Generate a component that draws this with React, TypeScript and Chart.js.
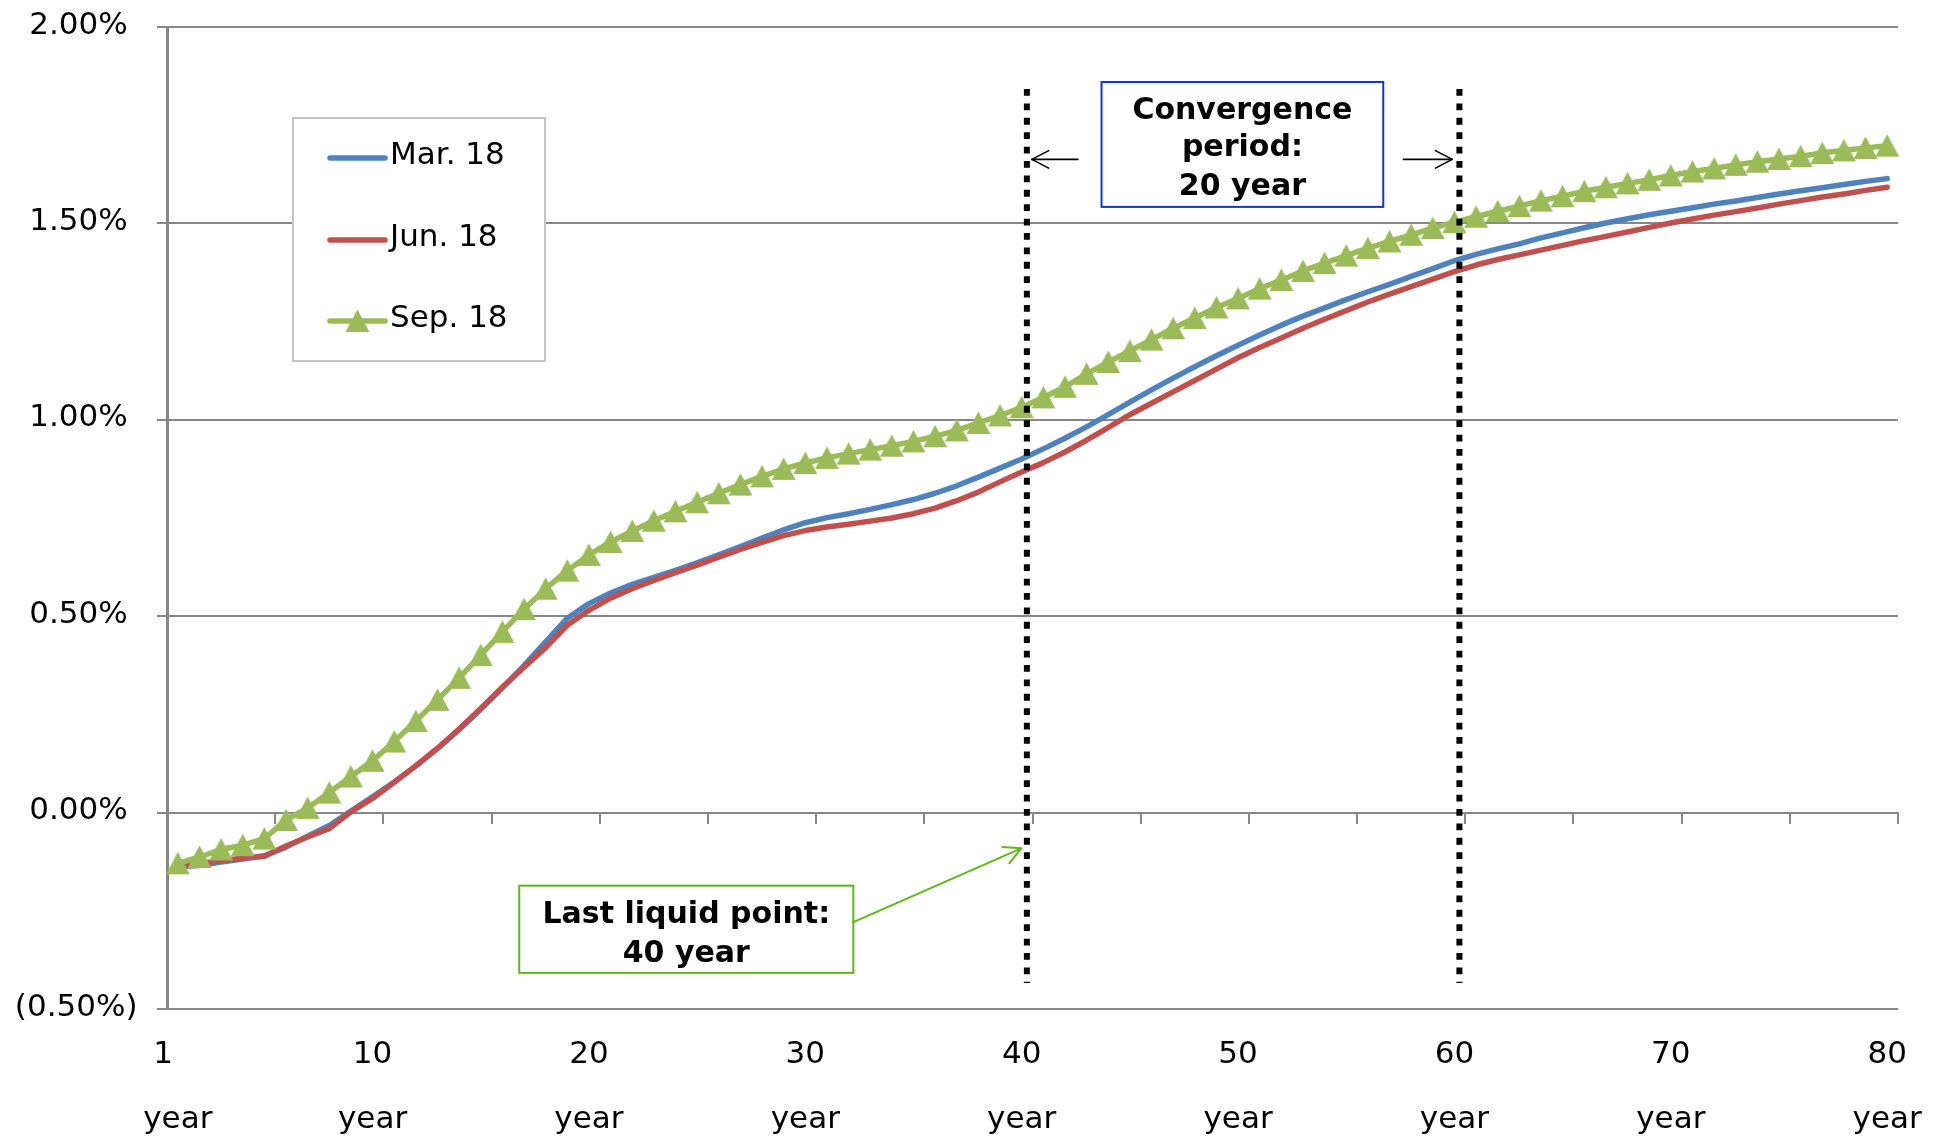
import React, { useEffect, useRef } from 'react';
import { Chart, registerables } from 'chart.js';

Chart.register(...registerables);

// ---------------- data ----------------
const years = [
  1, 2, 3, 4, 5, 6, 7, 8, 9, 10, 11, 12, 13, 14, 15, 16, 17, 18, 19, 20,
  21, 22, 23, 24, 25, 26, 27, 28, 29, 30, 31, 32, 33, 34, 35, 36, 37, 38, 39, 40,
  41, 42, 43, 44, 45, 46, 47, 48, 49, 50, 51, 52, 53, 54, 55, 56, 57, 58, 59, 60,
  61, 62, 63, 64, 65, 66, 67, 68, 69, 70, 71, 72, 73, 74, 75, 76, 77, 78, 79, 80,
];
const labeledYears = [1, 10, 20, 30, 40, 50, 60, 70, 80];
const yearWord = 'year';

const mar18 = [
  -0.138, -0.135, -0.126, -0.118, -0.110, -0.088, -0.060, -0.033, 0.004, 0.040,
  0.078, 0.119, 0.163, 0.211, 0.263, 0.318, 0.374, 0.435, 0.495, 0.532,
  0.559, 0.581, 0.599, 0.617, 0.636, 0.656, 0.677, 0.699, 0.720, 0.738,
  0.751, 0.761, 0.772, 0.784, 0.797, 0.813, 0.832, 0.854, 0.877, 0.900,
  0.926, 0.953, 0.982, 1.013, 1.045, 1.076, 1.106, 1.135, 1.163, 1.190,
  1.216, 1.241, 1.264, 1.285, 1.306, 1.326, 1.345, 1.365, 1.385, 1.405,
  1.421, 1.435, 1.448, 1.463, 1.476, 1.489, 1.501, 1.512, 1.522, 1.531,
  1.540, 1.549, 1.557, 1.566, 1.575, 1.583, 1.591, 1.599, 1.607, 1.614,
];
const jun18 = [
  -0.136, -0.130, -0.122, -0.116, -0.111, -0.085, -0.062, -0.041, 0.002, 0.036,
  0.077, 0.119, 0.164, 0.213, 0.265, 0.319, 0.370, 0.420, 0.477, 0.515,
  0.546, 0.570, 0.591, 0.611, 0.630, 0.650, 0.670, 0.688, 0.705, 0.718,
  0.727, 0.734, 0.742, 0.750, 0.761, 0.775, 0.794, 0.816, 0.842, 0.867,
  0.891, 0.918, 0.948, 0.980, 1.013, 1.042, 1.071, 1.100, 1.129, 1.158,
  1.184, 1.208, 1.233, 1.256, 1.278, 1.300, 1.320, 1.339, 1.358, 1.377,
  1.394, 1.408, 1.420, 1.432, 1.444, 1.456, 1.467, 1.478, 1.490, 1.501,
  1.511, 1.521, 1.530, 1.539, 1.549, 1.558, 1.567, 1.575, 1.584, 1.592,
];
const sep18 = [
  -0.129, -0.113, -0.094, -0.083, -0.066, -0.019, 0.012, 0.051, 0.092, 0.132,
  0.181, 0.233, 0.287, 0.343, 0.401, 0.460, 0.518, 0.570, 0.616, 0.656,
  0.689, 0.717, 0.743, 0.767, 0.790, 0.813, 0.835, 0.856, 0.875, 0.890,
  0.903, 0.914, 0.924, 0.934, 0.945, 0.958, 0.973, 0.992, 1.011, 1.032,
  1.057, 1.084, 1.117, 1.147, 1.175, 1.204, 1.233, 1.259, 1.286, 1.309,
  1.334, 1.356, 1.379, 1.399, 1.418, 1.437, 1.454, 1.471, 1.488, 1.503,
  1.517, 1.531, 1.544, 1.558, 1.569, 1.582, 1.592, 1.602, 1.611, 1.622,
  1.632, 1.640, 1.649, 1.657, 1.664, 1.671, 1.679, 1.686, 1.692, 1.698,
];

const seriesNames = ['Mar. 18', 'Jun. 18', 'Sep. 18'];
const seriesColors = ['#4F81BD', '#C0504D', '#9BBB59'];

const yMin = -0.5;
const yMax = 2.0;
const yStep = 0.5;

// annotation anchors (in data units: year, percent)
const llpYear = 40;
const convEndYear = 60;
const convText = ['Convergence', 'period:', '20 year'];
const llpText = ['Last liquid point:', '40 year'];

// ---------------- styling ----------------
const FONT = '"DejaVu Sans", Verdana, sans-serif';
const GRID = '#878787';
const REG = 31;
const LINE_W = 5.5;

function makeTriangle(color: string): HTMLCanvasElement {
  const c = document.createElement('canvas');
  c.width = 25;
  c.height = 24;
  const g = c.getContext('2d')!;
  g.fillStyle = color;
  g.beginPath();
  g.moveTo(12.5, 0.5);
  g.lineTo(24.5, 23);
  g.lineTo(0.5, 23);
  g.closePath();
  g.fill();
  return c;
}

function drawArrow(
  ctx: CanvasRenderingContext2D,
  x1: number, y1: number, x2: number, y2: number,
  color: string, width: number,
) {
  const head = 19;
  const a = 0.48;
  ctx.save();
  ctx.strokeStyle = color;
  ctx.lineWidth = width;
  ctx.lineCap = 'round';
  ctx.lineJoin = 'round';
  ctx.beginPath();
  ctx.moveTo(x1, y1);
  ctx.lineTo(x2, y2);
  ctx.stroke();
  const ang = Math.atan2(y2 - y1, x2 - x1);
  ctx.beginPath();
  ctx.moveTo(x2 - head * Math.cos(ang - a), y2 - head * Math.sin(ang - a));
  ctx.lineTo(x2, y2);
  ctx.lineTo(x2 - head * Math.cos(ang + a), y2 - head * Math.sin(ang + a));
  ctx.stroke();
  ctx.restore();
}

const overlayPlugin = {
  id: 'overlay',
  afterDraw(chart: any) {
    const ctx: CanvasRenderingContext2D = chart.ctx;
    const xs = chart.scales.x;
    const ys = chart.scales.y;
    const ca = chart.chartArea;
    const px = (year: number) => xs.getPixelForValue(year - 1);
    const py = (v: number) => ys.getPixelForValue(v);

    // ---- legend ----
    const lx = ca.left + 126;
    const ly = ca.top + 91;
    ctx.save();
    ctx.fillStyle = '#ffffff';
    ctx.fillRect(lx, ly, 252, 243);
    ctx.strokeStyle = '#C4C4C4';
    ctx.lineWidth = 2;
    ctx.strokeRect(lx, ly, 252, 243);
    const ds = chart.data.datasets;
    const rows = [40, 122, 203];
    ds.forEach((d: any, i: number) => {
      const ry = ly + rows[i];
      ctx.strokeStyle = d.borderColor;
      ctx.lineWidth = LINE_W;
      ctx.lineCap = 'round';
      ctx.beginPath();
      ctx.moveTo(lx + 37, ry);
      ctx.lineTo(lx + 92, ry);
      ctx.stroke();
      if (d.pointStyle && typeof d.pointStyle === 'object') {
        const img = d.pointStyle as HTMLCanvasElement;
        ctx.drawImage(img, lx + 64.5 - img.width / 2, ry - img.height / 2);
      }
      ctx.fillStyle = '#000';
      ctx.font = `${REG}px ${FONT}`;
      ctx.textAlign = 'left';
      ctx.textBaseline = 'middle';
      ctx.fillText(d.label, lx + 97, ry - 2);
    });
    ctx.restore();

    // ---- dotted vertical lines ----
    ctx.save();
    ctx.strokeStyle = '#000';
    ctx.lineWidth = 6;
    ctx.lineCap = 'butt';
    ctx.setLineDash([6.8, 7.6]);
    [llpYear + 0.24, convEndYear + 0.23].forEach((yr) => {
      const x = px(yr);
      ctx.beginPath();
      ctx.moveTo(x, py(1.842));
      ctx.lineTo(x, py(-0.434));
      ctx.stroke();
    });
    ctx.restore();

    // ---- convergence box ----
    const cbL = px(43.69), cbR = px(56.71), cbT = py(1.860), cbB = py(1.542);
    ctx.save();
    ctx.fillStyle = '#fff';
    ctx.fillRect(cbL, cbT, cbR - cbL, cbB - cbT);
    ctx.strokeStyle = '#0B38D6';
    ctx.lineWidth = 2;
    ctx.strokeRect(cbL, cbT, cbR - cbL, cbB - cbT);
    ctx.fillStyle = '#000';
    ctx.font = `bold 30px ${FONT}`;
    ctx.textAlign = 'center';
    ctx.textBaseline = 'alphabetic';
    const cbC = (cbL + cbR) / 2;
    [36.8, 74.3, 113.3].forEach((off, i) => ctx.fillText(convText[i], cbC, cbT + off));
    ctx.restore();

    // ---- arrows for convergence period ----
    const ay = py(1.663);
    drawArrow(ctx, px(42.6), ay, px(40.47), ay, '#000', 1.6);
    drawArrow(ctx, px(57.64), ay, px(59.9), ay, '#000', 1.6);

    // ---- last liquid point box ----
    const lbL = px(16.78), lbR = px(32.22), lbT = py(-0.186), lbB = py(-0.408);
    ctx.save();
    ctx.fillStyle = '#fff';
    ctx.fillRect(lbL, lbT, lbR - lbL, lbB - lbT);
    ctx.strokeStyle = '#5FB817';
    ctx.lineWidth = 2;
    ctx.strokeRect(lbL, lbT, lbR - lbL, lbB - lbT);
    ctx.fillStyle = '#000';
    ctx.font = `bold 30px ${FONT}`;
    ctx.textAlign = 'center';
    ctx.textBaseline = 'alphabetic';
    const lbC = (lbL + lbR) / 2;
    [37, 76].forEach((off, i) => ctx.fillText(llpText[i], lbC, lbT + off));
    ctx.restore();

    drawArrow(ctx, lbR, py(-0.2787), px(39.98), py(-0.091), '#5FB817', 2);
  },
};

export default function App() {
  const ref = useRef<HTMLCanvasElement>(null);

  useEffect(() => {
    document.body.style.margin = '0';
    document.body.style.overflow = 'hidden';
    const canvas = ref.current!;
    const tri = makeTriangle(seriesColors[2]);
    const labels = years.map(String);

    const lineBase = {
      borderWidth: LINE_W,
      tension: 0,
      borderCapStyle: 'round',
      borderJoinStyle: 'round',
      xAxisID: 'x',
      yAxisID: 'y',
    };

    const chart = new Chart(canvas, {
      type: 'line',
      data: {
        labels,
        datasets: [
          {
            ...lineBase,
            label: seriesNames[0],
            data: mar18,
            borderColor: seriesColors[0],
            backgroundColor: seriesColors[0],
            pointRadius: 0,
            order: 2,
          },
          {
            ...lineBase,
            label: seriesNames[1],
            data: jun18,
            borderColor: seriesColors[1],
            backgroundColor: seriesColors[1],
            pointRadius: 0,
            order: 1,
          },
          {
            ...lineBase,
            label: seriesNames[2],
            data: sep18,
            borderColor: seriesColors[2],
            backgroundColor: seriesColors[2],
            pointRadius: 10,
            pointStyle: tri as any,
            order: 0,
          },
        ],
      },
      options: {
        responsive: false,
        animation: false,
        devicePixelRatio: 1,
        layout: { padding: { left: 0, top: 27, right: 41, bottom: 0 } },
        plugins: {
          legend: { display: false },
          tooltip: { enabled: false },
        },
        events: [],
        scales: {
          x: {
            type: 'category',
            position: 'bottom',
            offset: true,
            grid: { display: false, drawTicks: false },
            border: { display: false },
            ticks: {
              autoSkip: false,
              maxRotation: 0,
              minRotation: 0,
              padding: 14,
              color: '#000',
              font: { family: FONT, size: REG, lineHeight: 2.08 },
              callback: (_v: any, index: number) => {
                const yr = years[index];
                if (!labeledYears.includes(yr)) return '';
                return [yr === 1 ? '1   ' : String(yr), yearWord];
              },
            },
            afterFit: (s: any) => {
              s.height = 128;
              s.paddingLeft = 0;
              s.paddingRight = 0;
            },
          },
          xt: {
            type: 'category',
            axis: 'x',
            position: { y: 0 },
            offset: true,
            grid: {
              offset: true,
              drawOnChartArea: false,
              drawTicks: true,
              tickLength: 10,
              lineWidth: 2,
              color: (c: any) =>
                c.index === undefined || c.index % 5 === 0 ? GRID : 'rgba(0,0,0,0)',
            },
            border: { display: true, color: GRID, width: 2 },
            ticks: { display: false, autoSkip: false },
            afterFit: (s: any) => {
              s.height = 0;
              s.paddingLeft = 0;
              s.paddingRight = 0;
            },
          },
          y: {
            type: 'linear',
            position: 'left',
            min: yMin,
            max: yMax,
            grid: { color: GRID, lineWidth: 2, drawTicks: true, tickLength: 10 },
            border: { display: true, color: GRID, width: 3 },
            ticks: {
              stepSize: yStep,
              padding: 19.5,
              labelOffset: -1.5,
              color: '#000',
              font: { family: FONT, size: REG },
              callback: (v: any) => {
                const n = Number(v);
                return n < 0 ? `(${Math.abs(n).toFixed(2)}%)` : `${n.toFixed(2)}% `;
              },
            },
            afterFit: (s: any) => {
              s.width = 167;
              s.paddingTop = 0;
              s.paddingBottom = 0;
            },
          },
        },
      } as any,
      plugins: [overlayPlugin],
    });

    return () => chart.destroy();
  }, []);

  return (
    <div style={{ position: 'absolute', left: 0, top: 0, width: 1939, height: 1137, background: '#fff' }}>
      <canvas ref={ref} width={1939} height={1137} style={{ display: 'block', width: 1939, height: 1137 }} />
    </div>
  );
}
